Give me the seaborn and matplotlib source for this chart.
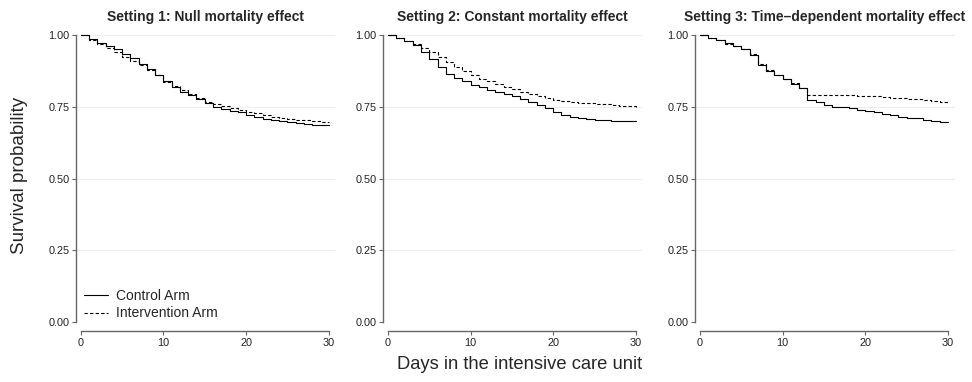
import numpy as np
import pandas as pd
import matplotlib
matplotlib.use('Agg')
import matplotlib.pyplot as plt
import seaborn as sns

days = list(range(31))

titles = ['Setting 1: Null mortality effect',
          'Setting 2: Constant mortality effect',
          'Setting 3: Time\u2013dependent mortality effect']

# survival probability, one value per day
s1_control = [1.0, .985, .973, .963, .952, .935, .92, .90, .882, .86, .838, .82, .803, .79, .776,
              .762, .75, .742, .736, .73, .722, .716, .708, .703, .70, .697, .694, .691, .688, .686, .685]
s1_interv = [1.0, .983, .97, .955, .94, .925, .91, .895, .878, .86, .835, .823, .807, .793, .78,
             .768, .76, .751, .745, .739, .733, .728, .72, .714, .711, .708, .705, .703, .70, .698, .697]
s2_control = [1.0, .99, .978, .965, .94, .918, .89, .865, .85, .838, .825, .818, .81, .803, .795,
              .786, .777, .767, .757, .745, .733, .722, .714, .71, .707, .705, .703, .701, .70, .699, .699]
s2_interv = [1.0, .99, .98, .968, .955, .94, .925, .905, .89, .875, .862, .848, .84, .83, .82,
             .812, .803, .795, .787, .78, .775, .77, .767, .764, .762, .76, .758, .756, .754, .752, .75]
s3_control = [1.0, .99, .982, .972, .962, .95, .932, .895, .875, .86, .845, .83, .815, .774, .765,
              .757, .75, .748, .747, .74, .735, .73, .726, .72, .715, .712, .71, .705, .70, .698, .696]
s3_interv = [1.0, .99, .982, .97, .96, .95, .935, .90, .877, .862, .847, .832, .815, .79, .79,
             .79, .79, .79, .79, .789, .788, .787, .785, .78, .779, .778, .776, .773, .77, .765, .762]

settings = [(s1_control, s1_interv), (s2_control, s2_interv), (s3_control, s3_interv)]
arms = ['Control Arm', 'Intervention Arm']

sns.set_theme(style='white')
plt.rcParams['font.family'] = ['Liberation Sans', 'DejaVu Sans']

fig = plt.figure(figsize=(9.72, 3.82), dpi=100)
lefts = [0.078, 0.394, 0.715]
w = 0.267
bottom, top = 1 - 323 / 382, 1 - 34 / 382

for i, (ctrl, intv) in enumerate(settings):
    ax = fig.add_axes([lefts[i], bottom, w, top - bottom])
    df = pd.DataFrame({'day': days * 2,
                       'surv': ctrl + intv,
                       'arm': [arms[0]] * len(days) + [arms[1]] * len(days)})
    sns.lineplot(data=df, x='day', y='surv', style='arm', color='black',
                 dashes={arms[0]: '', arms[1]: (3, 2)}, drawstyle='steps-post',
                 linewidth=0.8, ax=ax, legend=(i == 0))
    ax.set_xlim(-0.6, 30.8)
    ax.set_ylim(-0.0035, 1.0035)
    ax.set_yticks([0, 0.25, 0.5, 0.75, 1.0])
    ax.set_yticklabels(['0.00', '0.25', '0.50', '0.75', '1.00'])
    ax.set_xticks([0, 10, 20, 30])
    for y in [0.25, 0.5, 0.75, 1.0]:
        ax.axhline(y, color='#eeeeee', lw=0.8, zorder=0)
    ax.spines['top'].set_visible(False)
    ax.spines['right'].set_visible(False)
    ax.spines['bottom'].set_position(('outward', 6))
    ax.spines['bottom'].set_bounds(0, 30)
    ax.spines['left'].set_bounds(0, 1)
    for s in ['bottom', 'left']:
        ax.spines[s].set_color('#666666')
        ax.spines[s].set_linewidth(1.0)
    ax.tick_params(axis='both', length=3, width=0.8, color='#666666', labelsize=7.8,
                   labelcolor='#222222', pad=1.5, bottom=True, left=True)
    ax.set_xlabel('')
    ax.set_ylabel('')
    ax.set_title(titles[i], fontsize=10, fontweight='bold', pad=9)
    if i == 0:
        leg = ax.legend(loc='lower left', frameon=False, fontsize=10,
                        handlelength=1.7, handletextpad=0.6, borderaxespad=0.2,
                        bbox_to_anchor=(0.0, -0.02), labelspacing=0.25)
        leg.set_title(None)

fig.text(0.535, 0.045, 'Days in the intensive care unit', ha='center', va='center', fontsize=13.2)
fig.text(0.02, 0.54, 'Survival probability', ha='center', va='center', rotation=90, fontsize=13.5)

fig.savefig('out.png', dpi=100)
